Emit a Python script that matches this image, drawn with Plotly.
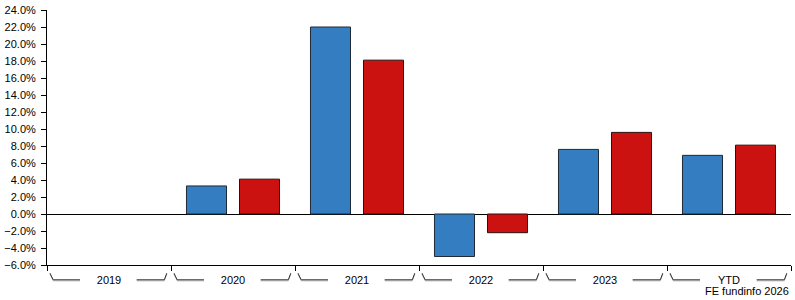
import plotly.graph_objects as go

categories = ["2019", "2020", "2021", "2022", "2023", "YTD"]
fund_values = [None, 3.3, 22.0, -5.0, 7.6, 6.9]
sector_values = [None, 4.1, 18.1, -2.2, 9.6, 8.1]
source_text = "FE fundinfo 2026"

BLUE = "#337dc0"
RED = "#cc1111"
FONT = "Liberation Sans, Arial, sans-serif"

fig = go.Figure()
fig.add_trace(go.Bar(x=categories, y=fund_values, marker=dict(color=BLUE, line=dict(color="#1e2a36", width=1))))
fig.add_trace(go.Bar(x=categories, y=sector_values, marker=dict(color=RED, line=dict(color="#2a1010", width=1))))

# decorative brackets around category labels
shapes = []
y_top, y_bot = -0.032, -0.058
for i, _ in enumerate(categories):
    b = i - 0.5
    segs = [
        (b + 0.024, y_top, b + 0.05, y_bot),
        (b + 0.05, y_bot, b + 0.266, y_bot),
        (b + 0.723, y_bot, b + 0.946, y_bot),
        (b + 0.946, y_bot, b + 0.966, y_top),
    ]
    for x0, y0, x1, y1 in segs:
        shapes.append(dict(type="line", xref="x", yref="paper", x0=x0, x1=x1, y0=y0 - 0.004, y1=y1 - 0.004,
                           line=dict(color="#b0b0b0", width=1)))
        shapes.append(dict(type="line", xref="x", yref="paper", x0=x0, x1=x1, y0=y0, y1=y1,
                           line=dict(color="#333333", width=1)))

fig.update_layout(
    width=795, height=300,
    margin=dict(l=47, r=4, t=8, b=35),
    paper_bgcolor="white", plot_bgcolor="white",
    barmode="group", bargap=0.145, bargroupgap=0.245,
    showlegend=False,
    font=dict(family=FONT, size=11, color="black"),
    shapes=shapes,
    annotations=[dict(text=source_text, xref="paper", yref="paper", x=1.0, y=-0.101,
                      xanchor="right", yanchor="middle", showarrow=False,
                      font=dict(family=FONT, size=11, color="black"))],
)
fig.update_xaxes(
    type="category", showline=True, linecolor="black", linewidth=1,
    ticks="outside", ticklen=5, tickcolor="black", tickson="boundaries",
    ticklabelstandoff=5,
    showgrid=False, zeroline=False, fixedrange=True,
    tickfont=dict(family=FONT, size=11, color="black"),
)
fig.update_yaxes(
    range=[-6, 24], dtick=2, tick0=0, tickformat=".1f", ticksuffix="%",
    showline=True, linecolor="black", linewidth=1,
    ticks="outside", ticklen=5, tickcolor="black",
    ticklabelstandoff=3,
    showgrid=False, zeroline=True, zerolinecolor="black", zerolinewidth=1,
    tickfont=dict(family=FONT, size=11, color="black"),
)

fig.write_html("out.html", config={"displayModeBar": False})
